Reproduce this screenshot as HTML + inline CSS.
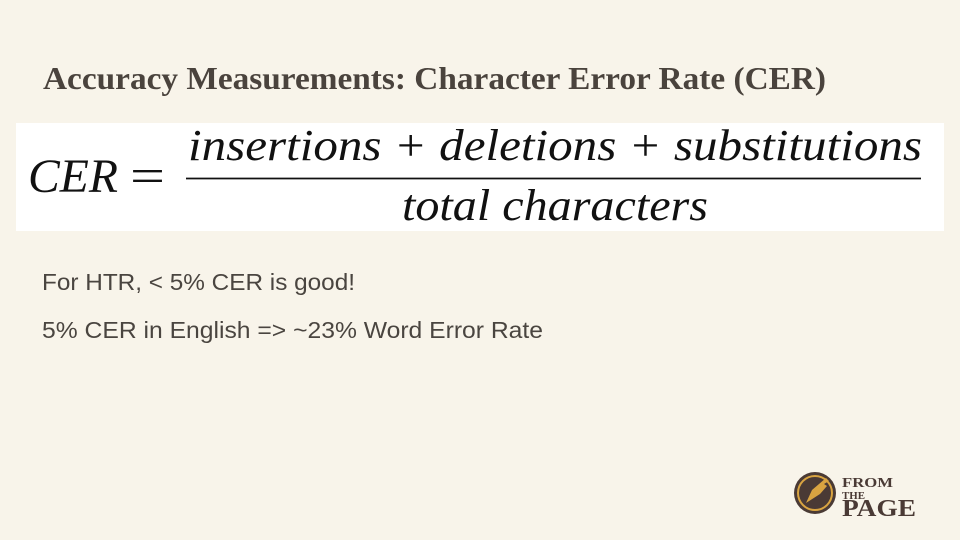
<!DOCTYPE html>
<html><head><meta charset="utf-8"><style>
html,body{margin:0;padding:0;background:#f8f4ea;}
svg{display:block}
</style></head><body>
<svg width="960" height="540" viewBox="0 0 960 540" xmlns="http://www.w3.org/2000/svg">
<rect x="0" y="0" width="960" height="540" fill="#f8f4ea"/>
<text x="43" y="89" font-family="Liberation Serif, serif" font-weight="bold" font-size="32" fill="#4a433d" textLength="783" lengthAdjust="spacingAndGlyphs">Accuracy Measurements: Character Error Rate (CER)</text>
<g>
<rect x="16" y="123" width="928" height="108" fill="#ffffff"/>
<text x="28" y="192" font-family="Liberation Serif, serif" font-style="italic" font-size="48" fill="#111" textLength="90" lengthAdjust="spacingAndGlyphs">CER</text>
<text x="130" y="192" font-family="Liberation Serif, serif" font-size="48" fill="#111" textLength="35" lengthAdjust="spacingAndGlyphs">=</text>
<text x="188" y="160" font-family="Liberation Serif, serif" font-style="italic" font-size="44" fill="#111" textLength="734" lengthAdjust="spacingAndGlyphs">insertions + deletions + substitutions</text>
<line x1="186" y1="178.5" x2="921" y2="178.5" stroke="#111" stroke-width="1.8"/>
<text x="402" y="220" font-family="Liberation Serif, serif" font-style="italic" font-size="44" fill="#111" textLength="306" lengthAdjust="spacingAndGlyphs">total characters</text>
</g>
<text x="42" y="290" font-family="Liberation Sans, sans-serif" font-size="23" fill="#4a4540" textLength="313" lengthAdjust="spacingAndGlyphs">For HTR, &lt; 5% CER is good!</text>
<text x="42" y="338" font-family="Liberation Sans, sans-serif" font-size="23" fill="#4a4540" textLength="501" lengthAdjust="spacingAndGlyphs">5% CER in English =&gt; ~23% Word Error Rate</text>
<g>
<circle cx="815" cy="493" r="21" fill="#4a3a35"/>
<circle cx="815" cy="493" r="17" fill="none" stroke="#d9a441" stroke-width="2"/>
<path d="M806 503 L812 490 L826 478 L829 481 L824 484 L827 486 L820 494 Z" fill="#d9a441"/>
<text x="842" y="487" font-family="Liberation Serif, serif" font-weight="bold" font-size="14" fill="#4a3a35" textLength="51" lengthAdjust="spacingAndGlyphs">FROM</text>
<text x="842" y="499" font-family="Liberation Serif, serif" font-weight="bold" font-size="11" fill="#4a3a35" textLength="23" lengthAdjust="spacingAndGlyphs">THE</text>
<text x="842" y="516" font-family="Liberation Serif, serif" font-weight="bold" font-size="24" fill="#4a3a35" textLength="74" lengthAdjust="spacingAndGlyphs">PAGE</text>
</g>
</svg>
</body></html>
